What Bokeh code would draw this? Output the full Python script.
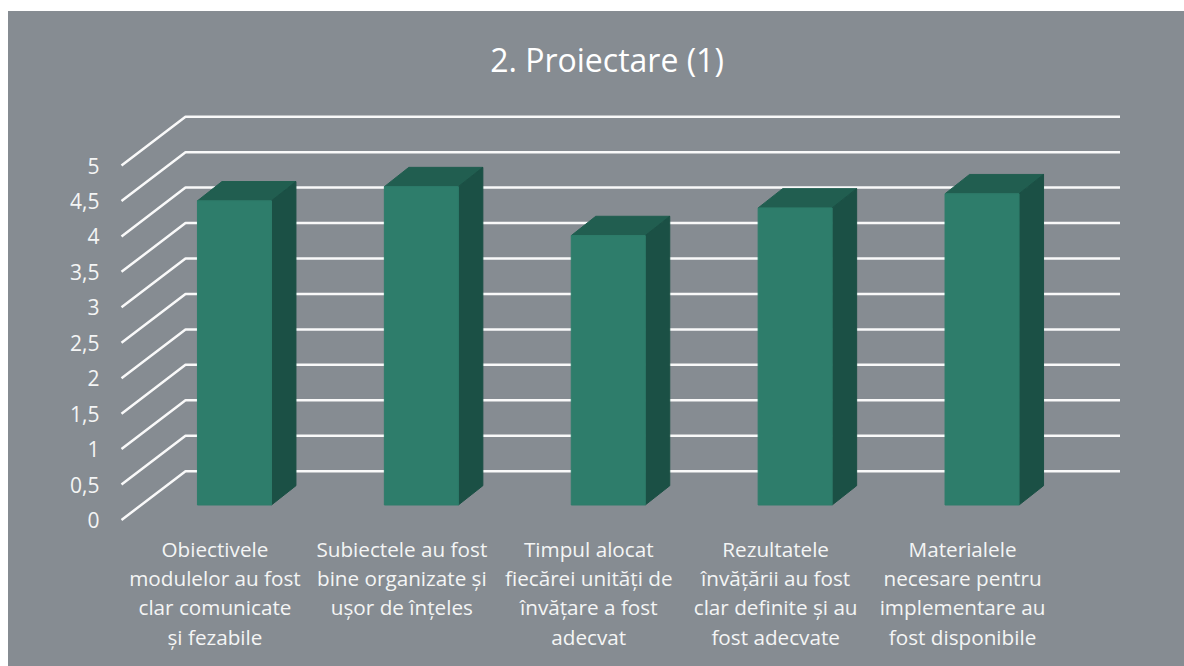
from bokeh.plotting import figure
from bokeh.models import Range1d, FixedTicker, Label
from bokeh.embed import file_html
from bokeh.resources import INLINE

title_text = "2. Proiectare (1)"
categories = [
    "Obiectivele\nmodulelor au fost\nclar comunicate\nși fezabile",
    "Subiectele au fost\nbine organizate și\nușor de înțeles",
    "Timpul alocat\nfiecărei unități de\nînvățare a fost\nadecvat",
    "Rezultatele\nînvățării au fost\nclar definite și au\nfost adecvate",
    "Materialele\nnecesare pentru\nimplementare au\nfost disponibile",
]
values = [4.29, 4.49, 3.80, 4.19, 4.39]
y_ticks = [0, 0.5, 1, 1.5, 2, 2.5, 3, 3.5, 4, 4.5, 5]
y_tick_labels = ["0", "0,5", "1", "1,5", "2", "2,5", "3", "3,5", "4", "4,5", "5"]

BG = "#868C92"
FRONT = "#2E7D6B"
TOP = "#215E50"
SIDE = "#1B5045"
FONT = "Open Sans"
INK = "#F4F5F5"

SLOT = 186.9   # px per category
UNIT = 70.9    # px per value unit
DX_FLOOR, DY_FLOOR = 64 / SLOT, 48.8 / UNIT
BAR_DX0, BAR_DY0 = 20.0 / SLOT - 37.5 / SLOT, 15.0 / UNIT
BAR_W = 74.0 / SLOT
BAR_DX, BAR_DY = 24.5 / SLOT, 19.3 / UNIT

x_range = Range1d(-0.5 - 2 / SLOT, -0.5 + 1001 / SLOT)
y_range = Range1d(-2.5 / UNIT, 489.5 / UNIT)

p = figure(width=1176, height=655, output_backend="svg", toolbar_location=None,
           x_range=x_range, y_range=y_range,
           min_border_left=111, min_border_right=62, min_border_top=19, min_border_bottom=144)
p.margin = (11, 0, 0, 8)
p.styles = {"background-color": BG}
p.background_fill_color = None
p.border_fill_color = None
p.outline_line_color = None
p.grid.visible = False

title = Label(x=(606.5 - 214.45) / SLOT, y=(519.5 - 59) / UNIT, text=title_text,
              text_align="center", text_baseline="middle",
              text_font=FONT, text_font_size="32px", text_color="#FFFFFF")
p.add_layout(title)

x0 = -0.5
xs = [[x0, x0 + DX_FLOOR, x0 + len(categories) + DX_FLOOR] for _ in y_ticks]
ys = [[v, v + DY_FLOOR, v + DY_FLOOR] for v in y_ticks]
p.multi_line(xs, ys, line_color="#FFFFFF", line_width=2.5, line_alpha=0.95)

for i, v in enumerate(values):
    l = i + BAR_DX0
    r = l + BAR_W
    b = BAR_DY0
    t = b + v
    p.patch([l, r, r + BAR_DX, l + BAR_DX], [t, t, t + BAR_DY, t + BAR_DY], fill_color=TOP, line_color=TOP)
    p.patch([r, r + BAR_DX, r + BAR_DX, r], [b, b + BAR_DY, t + BAR_DY, t], fill_color=SIDE, line_color=SIDE)
    p.quad(left=l, right=r, bottom=b, top=t, fill_color=FRONT, line_color=FRONT)

ax = p.xaxis[0]
ax.ticker = FixedTicker(ticks=list(range(len(categories))))
ax.major_label_overrides = {i: c for i, c in enumerate(categories)}
ax.axis_line_color = None
ax.major_tick_line_color = None
ax.minor_tick_line_color = None
ax.major_label_standoff = 6
ax.major_label_text_font = FONT
ax.major_label_text_font_size = "20.7px"
ax.major_label_text_color = INK
ax.major_label_text_line_height = 1.05

ay = p.yaxis[0]
ay.ticker = FixedTicker(ticks=y_ticks)
ay.major_label_overrides = dict(zip(y_ticks, y_tick_labels))
ay.axis_line_color = None
ay.major_tick_line_color = None
ay.minor_tick_line_color = None
ay.major_label_standoff = 14
ay.major_label_text_font = FONT
ay.major_label_text_font_size = "21px"
ay.major_label_text_color = INK

open("out.html", "w").write(file_html(p, INLINE))
